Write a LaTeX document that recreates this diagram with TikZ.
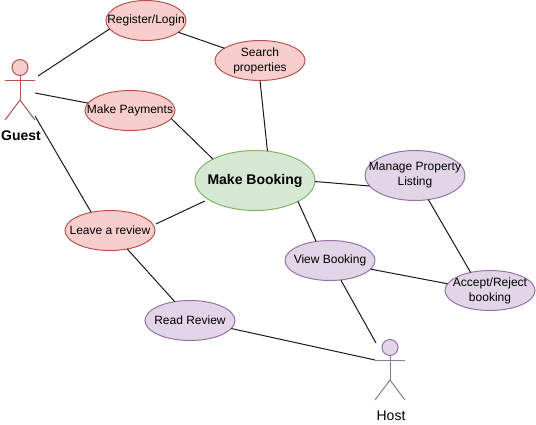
\documentclass[tikz,border=0pt]{standalone}
\usepackage{fontspec}
\setmainfont{Liberation Sans}
\usetikzlibrary{shapes.geometric}
\definecolor{guestfill}{HTML}{F8CECC}
\definecolor{guestline}{HTML}{B85450}
\definecolor{hostfill}{HTML}{E1D5E7}
\definecolor{hostline}{HTML}{9673A6}
\definecolor{mainfill}{HTML}{D5E8D4}
\definecolor{mainline}{HTML}{82B366}

\begin{document}
\begin{tikzpicture}[x=0.75pt,y=-0.75pt,line width=0.75pt]
	% Every use case is an ellipse, the colours say who it belongs to.
	% The negative inner sep keeps the ellipse at its minimum size whatever the text is.
	\tikzset{usecase/.style={draw,ellipse,align=center,inner xsep=-30pt,inner ysep=-15pt,outer sep=0,font=\fontsize{9}{11.25}\selectfont,minimum width=67.5pt,minimum height=30pt},
		guestcase/.style={usecase,fill=guestfill,draw=guestline},
		hostcase/.style={usecase,fill=hostfill,draw=hostline},
		head/.style={draw,circle,inner sep=0,outer sep=0,minimum size=12pt},
		link/.style={black!90,line width=0.75pt},
	}
	\useasboundingbox (0,0) rectangle (536,425);
	\node[guestcase,minimum width=60pt] (register) at (146,20.5) {Register/Login};
	\node[guestcase] (search) at (260,60.5) {Search\\properties};
	\node[guestcase] (payments) at (130,110.5) {Make Payments};
	\node[guestcase] (leave) at (110,230.5) {Leave a review};
	\node[hostcase] (read) at (190,320.5) {Read Review};
	\node[hostcase] (view) at (330,260.5) {View Booking};
	\node[hostcase,minimum width=75pt,minimum height=37.5pt] (manage) at (415,175.5) {Manage Property\\Listing};
	\node[hostcase] (accept) at (490,290.5) {Accept/Reject\\booking};
	% The main use case is bigger and has bold text.
	\node[usecase,fill=mainfill,draw=mainline,minimum width=90pt,minimum height=45pt,font=\fontsize{10.5}{13.5}\selectfont\bfseries] (booking) at (255,180.5) {Make Booking};
	% Guest figure
	\node[head,fill=guestfill,draw=guestline] (guesthead) at (20,67.5) {};
	\coordinate (guesthip) at (20,100);
	\draw[guestline] (guesthead) -- (guesthip);
	\draw[guestline] (5,80) -- (35,80);
	\draw[guestline] (5,120) -- (guesthip) -- (35,120);
	\node[font=\fontsize{10.5}{13.5}\selectfont\bfseries] (guest) at (21,136) {Guest};
	% Host figure
	\node[head,fill=hostfill,draw=hostline] (hosthead) at (390,347.5) {};
	\coordinate (hosthip) at (390,380);
	\draw[hostline] (hosthead) -- (hosthip);
	\draw[hostline] (375,360) -- (405,360);
	\draw[hostline] (375,400) -- (hosthip) -- (405,400);
	\node[font=\fontsize{10.5}{13.5}\selectfont] (host) at (391,416) {Host};
	% These points are where the lines stop next to the figures, they are not drawn.
	\coordinate (guesttop) at (38,76);
	\coordinate (guestmid) at (35,93);
	\coordinate (guestlow) at (35,116);
	\coordinate (hostarm) at (375,360);
	\coordinate (hostup) at (376,343);
	% Lines of the guest
	\draw[link] (guesttop) -- (register.193);
	\draw[link] (guestmid) -- (payments.170);
	\draw[link] (guestlow) -- (leave.136);
	\draw[link] (register.-20) -- (search.161);
	\draw[link] (search.south) -- (booking.67);
	\draw[link] (payments.-11) -- (booking.153);
	% This one stops a little before both ellipses.
	\draw[link,shorten <=2pt,shorten >=3pt] (leave.7) -- (booking.202);
	\draw[link] (leave.-47) -- (read.129);
	% Lines of the host
	\draw[link] (read.-11) -- (hostarm);
	\draw[link] (view.-61) -- (hostup);
	\draw[link] (booking.-26) -- (view.126);
	\draw[link] (booking.-1) -- (manage.193);
	\draw[link] (manage.-61) -- (accept.137);
	\draw[link] (view.-12) -- (accept.171);
\end{tikzpicture}
\end{document}
